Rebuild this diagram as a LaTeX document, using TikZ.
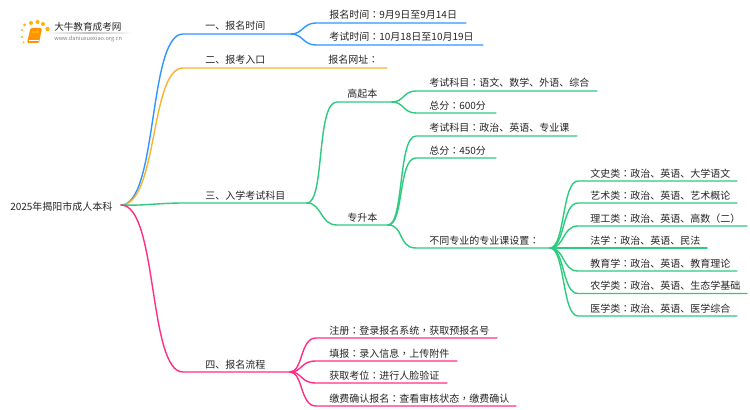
\documentclass[tikz,border=0pt]{standalone}
\usepackage{fontspec}
\setmainfont{Noto Sans CJK SC}
\newfontfamily\tcfont{Noto Sans CJK TC}
\newcommand{\cln}{{\tcfont ：}}
\newcommand{\cma}{{\tcfont ，}}
\usetikzlibrary{calc}
\definecolor{cblue}{HTML}{3096FF}
\definecolor{corange}{HTML}{FBB32E}
\definecolor{cgreen}{HTML}{2CCB7F}
\definecolor{cpink}{HTML}{FF2E86}
\definecolor{ctext}{HTML}{262626}
\tikzset{
  lab/.style={anchor=base west,inner sep=0pt,text=ctext,font=\fontsize{7.5}{7.5}\selectfont},
  wire/.style={line width=1.05pt,line cap=round},
  soft/.style={line width=1.05pt,line cap=round},
}
\begin{document}
\begin{tikzpicture}[x=0.75pt,y=-0.75pt]
\useasboundingbox (0,0) rectangle (750,410);
\fill[white] (0,0) rectangle (750,410);
% coordinates
\coordinate (root) at (121,205);
\coordinate (j1) at (291,34);
\coordinate (j3) at (307,203);
\coordinate (j4) at (290,372);
\coordinate (jg) at (392,102);
\coordinate (jz) at (388,225);
\coordinate (jb) at (550,248);
\coordinate (e1) at (183,34);
\coordinate (e2) at (183,68);
\coordinate (e3) at (183,203);
\coordinate (e4) at (183,372);
% main branches
\draw[wire,cblue] (root) .. controls (158,205) and (148,34) .. (e1) -- (j1);
\draw[wire,corange] (root) .. controls (158,205) and (150,68) .. (e2) -- (387,68);
\draw[wire,cgreen] (root) .. controls (140,206) and (160,203) .. (e3) -- (j3);
\draw[wire,cpink] (root) .. controls (158,205) and (148,372) .. (e4) -- (j4);
% branch 1
\foreach \y/\e in {23/466,45/483}{
  \draw[soft,cblue] (j1) .. controls (303,34) and (303,\y) .. (316,\y) -- (\e,\y);
}
% branch 3
\draw[soft,cgreen] (j3) .. controls (325,203) and (316,102) .. (337,102) -- (jg);
\draw[soft,cgreen] (j3) .. controls (322,203) and (320,225) .. (337,225) -- (jz);
\foreach \y/\e in {91/597,113/496}{
  \draw[soft,cgreen] (jg) .. controls (404,102) and (403,\y) .. (416,\y) -- (\e,\y);
}
\foreach \y/\e in {136/577,158/496,248/550}{
  \draw[soft,cgreen] (jz) .. controls (404,225) and (398,\y) .. (416,\y) -- (\e,\y);
}
\foreach \y/\e in {181/737,203/737,226/747,248/707,271/737,293.5/747,316/737}{
  \draw[soft,cgreen] (jb) .. controls (565,248) and (562,\y) .. (578,\y) -- (\e,\y);
}
% branch 4
\foreach \y/\e in {338/497,361/457,383/447,406/516}{
  \draw[soft,cpink] (j4) .. controls (303,372) and (300,\y) .. (316,\y) -- (\e,\y);
}
% labels
\node[lab] (root-t) at (10,210) {2025年揭阳市成人本科};
\node[lab] (a1) at (205,30) {一、报名时间};
\node[lab] (a2) at (205,64) {二、报考入口};
\node[lab] (a3) at (205,199) {三、入学考试科目};
\node[lab] (a4) at (205,368) {四、报名流程};
\node[lab] (b1) at (329,19) {报名时间\cln 9月9日至9月14日};
\node[lab] (b2) at (329,41) {考试时间\cln 10月18日至10月19日};
\node[lab] (b3) at (328,64) {报名网址\cln};
\node[lab] (g) at (347,98) {高起本};
\node[lab] (z) at (347,221) {专升本};
\node[lab] (g1) at (429,87) {考试科目\cln 语文、数学、外语、综合};
\node[lab] (g2) at (429,109) {总分\cln 600分};
\node[lab] (z1) at (429,132) {考试科目\cln 政治、英语、专业课};
\node[lab] (z2) at (429,154) {总分\cln 450分};
\node[lab] (z3) at (429,244) {不同专业的专业课设置\cln};
\node[lab] (c1) at (590,177) {文史类\cln 政治、英语、大学语文};
\node[lab] (c2) at (590,199) {艺术类\cln 政治、英语、艺术概论};
\node[lab] (c3) at (590,222) {理工类\cln 政治、英语、高数（二）};
\node[lab] (c4) at (590,244) {法学\cln 政治、英语、民法};
\node[lab] (c5) at (590,267) {教育学\cln 政治、英语、教育理论};
\node[lab] (c6) at (590,289) {农学类\cln 政治、英语、生态学基础};
\node[lab] (c7) at (590,312) {医学类\cln 政治、英语、医学综合};
\node[lab] (d1) at (329,334) {注册\cln 登录报名系统\cma 获取预报名号};
\node[lab] (d2) at (329,357) {填报\cln 录入信息\cma 上传附件};
\node[lab] (d3) at (329,379) {获取考位\cln 进行人脸验证};
\node[lab] (d4) at (329,402) {缴费确认报名\cln 查看审核状态\cma 缴费确认};
% logo
\node[lab,font=\fontsize{7.2}{7.2}\selectfont] (l1) at (54,30.5) {大牛教育成考网};
\node[lab,font=\fontsize{4.2}{4.2}\selectfont,text=gray] (l2) at (54,41) {www.daniuxuexiao.org.cn};
\shade[left color=white,right color=white,middle color=black!25,draw=none] (45,33) rectangle (133,33.6);
\foreach \x/\y/\r in {22/30/1.2,24.5/25/1.5,31/23/2,37.5/22/2,43/24/2,47.5/29/2.2,22/37/1.1,23.5/42.5/1}{
  \fill[orange!60!yellow] (\x,\y) circle[radius=\r];
}
\fill[orange!85!yellow,rounded corners=1pt] (30.5,28) -- (42,28) -- (39,43) -- (27,43) -- cycle;
\fill[orange!60!yellow] (32.5,31) -- (39.5,31) -- (39,33) -- (32,33) -- cycle;
\draw[white,line width=0.4pt] (28.5,40.5) -- (38.5,40.5);
\end{tikzpicture}
\end{document}
